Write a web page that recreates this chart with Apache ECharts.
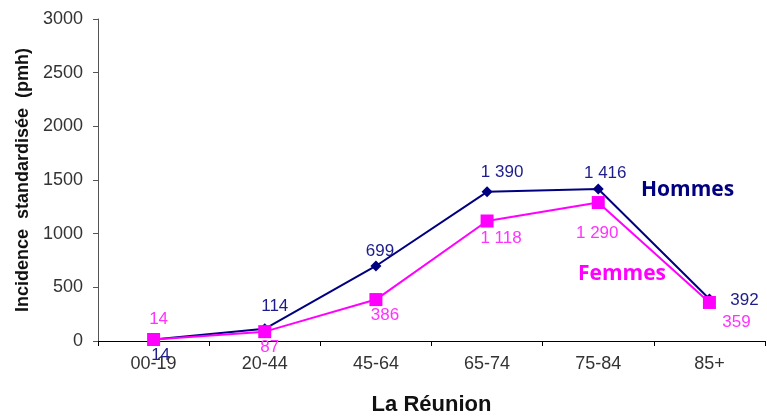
<!DOCTYPE html>
<html><head><meta charset="utf-8">
<script src="https://cdn.jsdelivr.net/npm/echarts@6/dist/echarts.min.js"></script>
<style>html,body{margin:0;padding:0;background:#fff}#c{width:767px;height:419px}</style>
</head><body><div id="c"></div>
<script>
const categories = ["00-19","20-44","45-64","65-74","75-84","85+"];
const hommes = [14,114,699,1390,1416,392];
const femmes = [14,87,386,1118,1290,359];
const yTicks = [0,500,1000,1500,2000,2500,3000];

function fmt(v){ return String(v).replace(/\B(?=(\d{3})+(?!\d))/g,' '); }

// label offsets (centre of label relative to the marker)
const hOff = [[7,16],[10,-22],[4,-15],[15,-19],[7,-16],[35,1]];
const fOff = [[5,-20],[5,16],[9,16],[14,17],[-1,31],[27,20]];

const chart = echarts.init(document.getElementById('c'), null, {renderer:'canvas'});
const font = 'Liberation Sans, Arial, sans-serif';
chart.setOption({
  animation:false,
  grid:{left:98, right:2, top:19, bottom:78, containLabel:false, outerBoundsMode:'none'},
  xAxis:{
    type:'category', data:categories, boundaryGap:true,
    axisLine:{lineStyle:{color:'#000', width:1}},
    axisTick:{show:true, length:5, lineStyle:{color:'#000'}},
    axisLabel:{color:'#333', fontSize:18, fontFamily:font, margin:14},
    name:'La Réunion', nameLocation:'middle', nameGap:53,
    nameTextStyle:{color:'#111', fontSize:22, fontWeight:'bold', fontFamily:font}
  },
  yAxis:{
    type:'value', min:0, max:3000, interval:500,
    axisLine:{show:true, lineStyle:{color:'#555'}},
    axisTick:{show:true, length:5, lineStyle:{color:'#555'}},
    splitLine:{show:false},
    axisLabel:{color:'#333', fontSize:18, fontFamily:font, margin:15,
      formatter:function(v){ return yTicks.indexOf(v)>=0 ? String(v) : ''; }},
    name:'Incidence  standardisée  (pmh)', nameLocation:'middle', nameGap:63, nameRotate:90,
    nameTextStyle:{color:'#111', fontSize:18, fontWeight:'bold', fontFamily:font}
  },
  series:[
    {
      name:'Hommes', type:'line', z:2,
      data:hommes.map((v,i)=>({value:v, label:{show:true, position:'inside', offset:hOff[i]}})),
      symbol:'diamond', symbolSize:11,
      lineStyle:{color:'#000080', width:2}, itemStyle:{color:'#000080'},
      label:{show:true, color:'#1c1c8a', fontSize:17, fontFamily:font, formatter:p=>fmt(p.value)}
    },
    {
      name:'Femmes', type:'line', z:3,
      data:femmes.map((v,i)=>({value:v, label:{show:true, position:'inside', offset:fOff[i]}})),
      symbol:'rect', symbolSize:13,
      lineStyle:{color:'#ff00ff', width:2}, itemStyle:{color:'#ff00ff'},
      label:{show:true, color:'#ff33ff', fontSize:17, fontFamily:font, formatter:p=>fmt(p.value)}
    }
  ],
  graphic:[
    {type:'text', x:641, y:190, style:{text:'Hommes', fill:'#000080', textAlign:'left', textVerticalAlign:'middle', font:'bold 21px "Open Sans", "Noto Sans", sans-serif'}},
    {type:'text', x:578, y:274, style:{text:'Femmes', fill:'#ff00ff', textAlign:'left', textVerticalAlign:'middle', font:'bold 21px "Open Sans", "Noto Sans", sans-serif'}}
  ]
});
</script></body></html>
